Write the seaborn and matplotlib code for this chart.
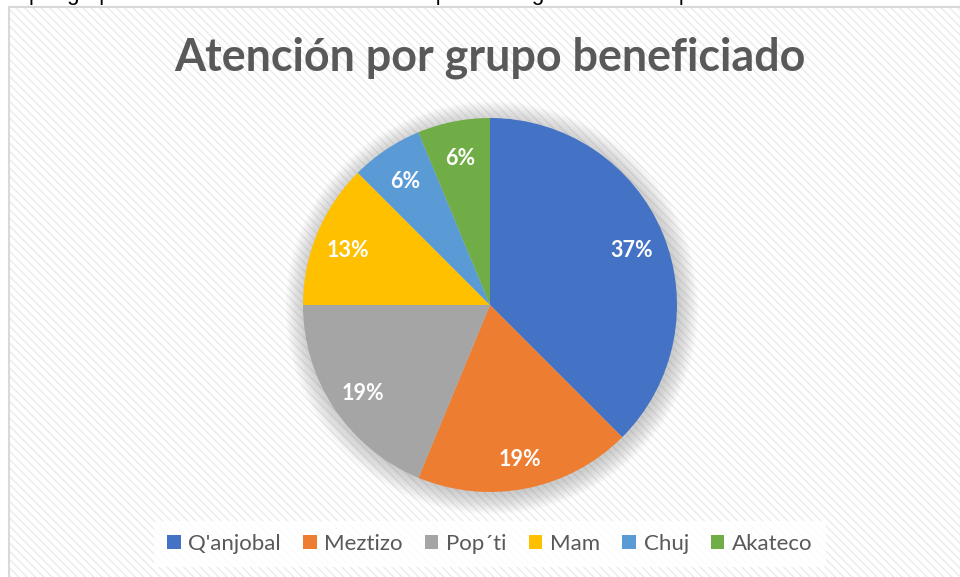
import numpy as np
import seaborn as sns
import matplotlib.pyplot as plt
from matplotlib.patches import Rectangle, Circle

# data (counts, labels as printed)
grupos = ["Q'anjobal", "Meztizo", "Pop´ti", "Mam", "Chuj", "Akateco"]
atendidos = [6, 3, 3, 2, 1, 1]
etiquetas = ["37%", "19%", "19%", "13%", "6%", "6%"]
colores = ["#4472C4", "#ED7D31", "#A5A5A5", "#FFC000", "#5B9BD5", "#70AD47"]

sns.set_theme(style="white")
plt.rcParams["font.family"] = ["Lato", "DejaVu Sans"]
plt.rcParams["hatch.color"] = "#ebebeb"
plt.rcParams["hatch.linewidth"] = 1.0

W, H = 960, 577
fig = plt.figure(figsize=(W / 100, H / 100), dpi=100)
fig.patch.set_facecolor("white")

# chart area with diagonal stripes
fig.patches.append(Rectangle((9 / W, -0.1), 1.2, 1 - 7 / H + 0.1, transform=fig.transFigure,
                             facecolor="white", edgecolor="#ebebeb", hatch="\\\\\\\\",
                             linewidth=0, zorder=-3))
fig.patches.append(Rectangle((9 / W, -0.1), 1.2, 1 - 7 / H + 0.1, transform=fig.transFigure,
                             facecolor="none", edgecolor="#d9d9d9", linewidth=1.5, zorder=-2))

# cut-off caption line of the document above
fig.text(0.03, 1.0, "por grupo étnico atendido durante el año por el Programa de Compensación a la Co",
         fontsize=16, color="black", va="baseline", ha="left", family=["Liberation Sans", "DejaVu Sans"])

fig.text(490 / W, 1 - 58 / H, "Atención por grupo beneficiado", ha="center", va="center",
         fontsize=32.3, fontweight="bold", color="#595959")

R = 187
ax = fig.add_axes([(490 - 240) / W, (H - 305 - 240) / H, 480 / W, 480 / H])
ax.axis("off")

# soft shadow around the pie
for i in range(14):
    ax.add_patch(Circle((0.01, -0.015), 1 + i * 0.008, facecolor="#808080",
                        alpha=0.03, linewidth=0, zorder=1))

wedges, _ = ax.pie(atendidos, colors=sns.color_palette(colores), startangle=90,
                   counterclock=False, radius=1,
                   wedgeprops=dict(linewidth=0, zorder=2))

lim = 240 / R
ax.set_xlim(-lim, lim)
ax.set_ylim(-lim, lim)
ax.set_aspect("equal")

total = sum(atendidos)
ang = 90.0
for w, v, lab in zip(wedges, atendidos, etiquetas):
    mid = np.deg2rad(ang - v / total * 180)
    ang -= v / total * 360
    ax.text(0.82 * np.cos(mid), 0.82 * np.sin(mid) - 0.02, lab, ha="center", va="center",
            color="white", fontsize=15.5, fontweight="bold", zorder=3)

leg = fig.legend(wedges, grupos, loc="center", bbox_to_anchor=(490 / W, 1 - 544 / H),
                 ncol=6, frameon=True, fontsize=16, handlelength=0.6, handleheight=0.6,
                 handletextpad=0.35, columnspacing=1.0, borderpad=0.6)
leg.get_frame().set_facecolor("white")
leg.get_frame().set_alpha(0.85)
leg.get_frame().set_linewidth(0)
for t in leg.get_texts():
    t.set_color("#595959")

fig.savefig("out.png", dpi=100)
